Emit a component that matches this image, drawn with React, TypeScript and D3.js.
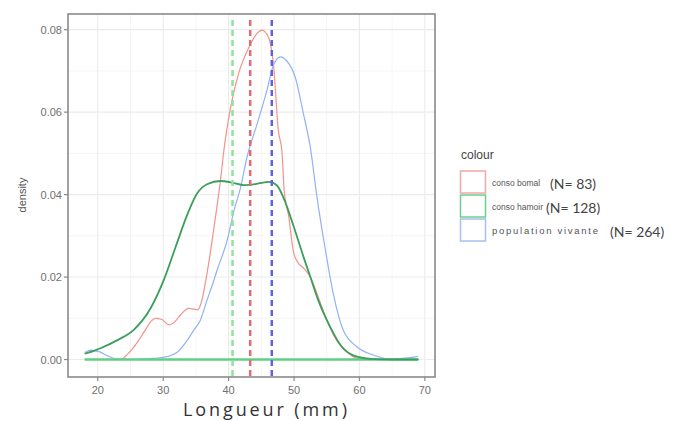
import React from 'react'
import * as d3 from "d3";

// density curves (x = length in mm, y = density)
const bomalX = [18, 21, 23.5, 24.5, 25.5, 26.6, 27.4, 28.1, 28.8, 29.8, 30.9, 31.8, 32.65, 33.9, 34.7, 35.3, 35.8, 36.7, 37.5, 38.3, 38.8, 39.3, 40.3, 41.5, 43.1, 44.3, 45.1, 46.1, 46.9, 47.6, 48.15, 48.5, 49.2, 49.9, 50.6, 51.45, 52.5, 53.7, 55.0, 56.5, 58.05, 59.6, 61, 64, 69];
const bomalY = [0, 0, 0, 0.0012, 0.003, 0.0055, 0.0075, 0.0092, 0.0100, 0.0097, 0.0084, 0.0092, 0.0108, 0.0124, 0.0122, 0.0121, 0.0137, 0.0209, 0.029, 0.038, 0.044, 0.051, 0.0611, 0.0692, 0.0757, 0.079, 0.0799, 0.0781, 0.0708, 0.0555, 0.0505, 0.041, 0.0346, 0.0262, 0.0235, 0.0222, 0.020, 0.0152, 0.0096, 0.0047, 0.0019, 0.0003, 0, 0, 0];

const hamoirX = [18, 19.7, 20.5, 23, 25.5, 28.1, 30.1, 31.9, 33.7, 35.2, 36.7, 38.75, 40.8, 42.3, 44.3, 46.2, 47.4, 48.4, 49.9, 51.45, 52.5, 53.7, 55.5, 57.3, 59.6, 62.1, 65, 69];
const hamoirY = [0.0014, 0.0023, 0.0028, 0.0047, 0.0072, 0.0125, 0.0193, 0.0273, 0.0352, 0.0403, 0.0425, 0.0433, 0.0428, 0.0423, 0.0426, 0.0431, 0.0422, 0.0392, 0.0325, 0.0249, 0.0200, 0.0144, 0.0080, 0.0031, 0.0007, 0.0001, 0, 0];

const vivanteX = [18, 18.9, 20.2, 21.5, 23, 26, 28.6, 30.6, 32.1, 33.7, 34.7, 35.7, 36.7, 37.5, 38.25, 39.8, 40.8, 41.8, 42.8, 44.35, 45.85, 46.9, 47.95, 48.9, 50.2, 51.45, 52.5, 53.5, 54.8, 56.0, 57.5, 59.6, 62.1, 64.7, 66.7, 68.7, 69];
const vivanteY = [0.0017, 0.0023, 0.0019, 0.0009, 0.0001, 0, 0.0003, 0.0007, 0.0017, 0.0047, 0.0072, 0.0096, 0.0144, 0.018, 0.0217, 0.029, 0.036, 0.0415, 0.049, 0.0571, 0.0652, 0.0716, 0.0734, 0.0724, 0.0684, 0.0595, 0.0514, 0.0395, 0.0265, 0.016, 0.0072, 0.0031, 0.0011, 0.0001, 0.0003, 0.0007, 0.0008];

const groups = ["conso bomal", "conso hamoir", "population vivante"];
const counts = ["(N= 83)", "(N= 128)", "(N= 264)"];
const means = [43.3, 40.6, 46.6];

const xTicks = [20, 30, 40, 50, 60, 70];
const xMinor = [15, 25, 35, 45, 55, 65];
const yTicks = [0, 0.02, 0.04, 0.06, 0.08];
const yMinor = [0.01, 0.03, 0.05, 0.07];

const curveColors = ["#f4928c", "#3c9e5c", "#8fb3f5"];
const dashColors = ["#e66a74", "#8fe39a", "#6262dd"];
const keyColors = ["#f0a8a8", "#6ccf8f", "#a9bff0"];

const App = () => {
  var width = 688, height = 421;
  var panel = {left: 68, top: 14, right: 435, bottom: 377};
  var x = d3.scaleLinear().domain([15.45, 71.55]).range([panel.left, panel.right]);
  var y = d3.scaleLinear().domain([-0.00424, 0.0838]).range([panel.bottom, panel.top]);

  var line = d3.line<[number, number]>()
    .x(d => x(d[0]))
    .y(d => y(d[1]))
    .curve(d3.curveMonotoneX);

  var series = [
    bomalX.map((v, i) => [v, bomalY[i]] as [number, number]),
    hamoirX.map((v, i) => [v, hamoirY[i]] as [number, number]),
    vivanteX.map((v, i) => [v, vivanteY[i]] as [number, number]),
  ];

  var tickFont = "'Liberation Sans', Arial, sans-serif";
  var countX = [550, 546, 610];

  return (
    <svg width={width} height={height} style={{position: 'absolute', left: 0, top: 0, background: '#fff'}}>
      <rect x={0} y={0} width={width} height={height} fill="#fff"/>
      <g className="grid">
        {xMinor.filter(v => x(v) > panel.left).map(v =>
          <line key={"xm" + v} x1={x(v)} x2={x(v)} y1={panel.top} y2={panel.bottom} stroke="#f3f3f3" strokeWidth={0.8}/>)}
        {yMinor.map(v =>
          <line key={"ym" + v} x1={panel.left} x2={panel.right} y1={y(v)} y2={y(v)} stroke="#f3f3f3" strokeWidth={0.8}/>)}
        {xTicks.map(v =>
          <line key={"xg" + v} x1={x(v)} x2={x(v)} y1={panel.top} y2={panel.bottom} stroke="#ebebeb" strokeWidth={1.1}/>)}
        {yTicks.map(v =>
          <line key={"yg" + v} x1={panel.left} x2={panel.right} y1={y(v)} y2={y(v)} stroke="#ebebeb" strokeWidth={1.1}/>)}
      </g>

      <g className="curves" fill="none">
        <path d={line(series[0]) || ""} stroke={curveColors[0]} strokeWidth={1.2}/>
        <path d={line(series[2]) || ""} stroke={curveColors[2]} strokeWidth={1.2}/>
        <line x1={x(18)} x2={x(69)} y1={y(0)} y2={y(0)} stroke="#5fcf85" strokeWidth={2.5}/>
        <path d={line(series[1]) || ""} stroke={curveColors[1]} strokeWidth={1.8}/>
      </g>

      <g className="means">
        {means.map((m, i) =>
          <line key={"m" + i} x1={x(m)} x2={x(m)} y1={panel.top + 6} y2={panel.bottom}
            stroke={dashColors[i]} strokeWidth={2.5} strokeDasharray="6,4"/>)}
      </g>

      <rect x={panel.left} y={panel.top} width={panel.right - panel.left} height={panel.bottom - panel.top}
        fill="none" stroke="#8a8a8a" strokeWidth={1.6}/>

      <g className="xAxis" fontFamily={tickFont} fontSize={11} fill="#707070">
        {xTicks.map(v =>
          <g key={"xt" + v}>
            <line x1={x(v)} x2={x(v)} y1={panel.bottom} y2={panel.bottom + 4} stroke="#8a8a8a" strokeWidth={1.2}/>
            <text x={x(v)} y={390} textAnchor="middle" dominantBaseline="central">{v}</text>
          </g>)}
      </g>
      <g className="yAxis" fontFamily={tickFont} fontSize={11} fill="#707070">
        {yTicks.map(v =>
          <g key={"yt" + v}>
            <line x1={panel.left - 4} x2={panel.left} y1={y(v)} y2={y(v)} stroke="#8a8a8a" strokeWidth={1.2}/>
            <text x={panel.left - 6} y={y(v)} textAnchor="end" dominantBaseline="central">{v.toFixed(2)}</text>
          </g>)}
      </g>

      <text transform="translate(22,195) rotate(-90)" textAnchor="middle" dominantBaseline="central"
        fontFamily={tickFont} fontSize={11} fill="#555">density</text>
      <text x={183} y={416} textLength={164} lengthAdjust="spacing"
        fontFamily="'Open Sans', sans-serif" fontSize={18} fill="#333">Longueur (mm)</text>

      <g className="legend">
        <text x={461} y={155} dominantBaseline="central" fontFamily={tickFont} fontSize={12} fill="#444">colour</text>
        {groups.map((g, i) =>
          <g key={"l" + i} transform={`translate(460, ${170 + i * 24})`}>
            <rect x={0.5} y={1} width={25} height={22} fill="#fff" stroke={keyColors[i]} strokeWidth={1.5}/>
            <text x={32} y={12.5} dominantBaseline="central" fontFamily={tickFont} fontSize={i === 2 ? 9.5 : 8.5}
              textLength={i === 2 ? 106 : undefined} lengthAdjust="spacing" fill="#555">{g}</text>
          </g>)}
        {counts.map((c, i) =>
          <text key={"n" + i} x={countX[i]} y={183 + i * 24} dominantBaseline="central"
            fontFamily="Lato, sans-serif" fontSize={14} fill="#444">{c}</text>)}
      </g>
    </svg>
  )
}

export default App;
